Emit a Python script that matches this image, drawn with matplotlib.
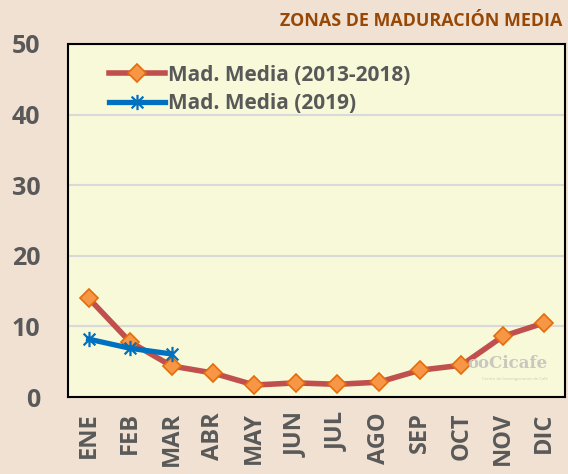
import numpy as np
import matplotlib
matplotlib.use("Agg")
from matplotlib import pyplot as plt
from matplotlib.path import Path

meses = ["ENE", "FEB", "MAR", "ABR", "MAY", "JUN", "JUL", "AGO", "SEP", "OCT", "NOV", "DIC"]
media_2013_2018 = [14.0, 7.8, 4.4, 3.4, 1.7, 2.0, 1.8, 2.1, 3.8, 4.5, 8.6, 10.5]
media_2019 = [8.2, 6.9, 6.1]
yticks = [0, 10, 20, 30, 40, 50]

FONT = "Open Sans"
plt.rcParams['font.family'] = FONT
plt.rcParams['font.weight'] = 'bold'

# excel-style star marker: x plus vertical bar
star = Path([(-1, -1), (1, 1), (-1, 1), (1, -1), (0, -1.3), (0, 1.3)],
            [Path.MOVETO, Path.LINETO, Path.MOVETO, Path.LINETO, Path.MOVETO, Path.LINETO])

fig = plt.figure(figsize=(5.68, 4.74), dpi=100, facecolor="#F0E1D2")
ax = fig.add_axes([0.1197, 0.1624, 0.875, 0.7448])
ax.set_facecolor("#F8F9D8")

x = np.arange(len(meses))
ax.plot(x, media_2013_2018, color="#C0504D", lw=4, marker="D", ms=9.5,
        mfc="#F79646", mec="#E46C0A", mew=1.2, label="Mad. Media (2013-2018)", zorder=3)
ax.plot(x[:len(media_2019)], media_2019, color="#0070C0", lw=3.8, marker=star, ms=11,
        mec="#0070C0", mew=1.6, label="Mad. Media (2019)", zorder=4)

ax.set_xlim(-0.5, 11.5)
ax.set_ylim(0, 50)
ax.set_yticks(yticks)
ax.set_xticks(x)
ax.set_xticklabels(meses, rotation=90, va="top", family=FONT, weight="bold")
ax.set_yticklabels([str(v) for v in yticks], family=FONT, weight="bold")
ax.tick_params(axis="y", length=0, pad=20, labelsize=18, labelcolor="#595959")
ax.tick_params(axis="x", length=0, pad=11, labelsize=17, labelcolor="#595959")
ax.grid(axis="y", color="#D9D9D9", lw=1.5, zorder=0)
ax.set_axisbelow(True)
for s in ax.spines.values():
    s.set_color("black")
    s.set_linewidth(1.5)

leg = ax.legend(loc="upper left", bbox_to_anchor=(0.065, 0.965), frameon=False,
                prop={"family": FONT, "size": 15, "weight": "bold"}, handlelength=2.7,
                handletextpad=0.15, labelspacing=0.35, borderaxespad=0)
for t in leg.get_texts():
    t.set_color("#595959")

fig.text(0.99, 0.955, "ZONAS DE MADURACIÓN MEDIA", ha="right", va="center",
         fontsize=12.9, color="#974806", family=FONT, weight="bold")

ax.text(0.965, 0.07, "ooCicafe", transform=ax.transAxes, ha="right", va="bottom",
        fontsize=12, color="#C8C8C0", family="DejaVu Serif", weight="bold")
ax.text(0.965, 0.045, "Centro de Investigaciones de Café", transform=ax.transAxes,
        ha="right", va="bottom", fontsize=3, color="#C8C8C0", weight="normal")

fig.savefig("out.png", dpi=100, facecolor=fig.get_facecolor())
